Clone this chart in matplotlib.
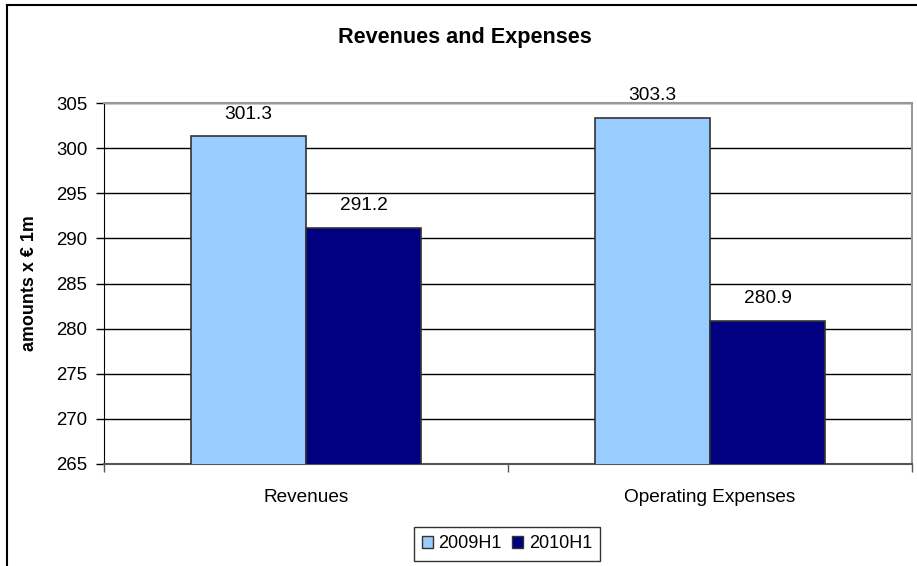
import matplotlib.pyplot as plt
import numpy as np
from matplotlib.lines import Line2D
from matplotlib.patches import Patch

plt.rcParams['font.family'] = ['Liberation Sans', 'DejaVu Sans']

categories = ['Revenues', 'Operating Expenses']
series_names = ['2009H1', '2010H1']
values_2009 = [301.3, 303.3]
values_2010 = [291.2, 280.9]
colors = ['#99CCFF', '#000080']

W, H = 917, 566
fig = plt.figure(figsize=(W / 100, H / 100), dpi=100)

# plot area in pixel coords
left, right, top, bottom = 104, 912, 103, 464
ax = fig.add_axes([left / W, 1 - bottom / H, (right - left) / W, (bottom - top) / H])

x = np.arange(len(categories))
width = 1 / 1.75 / 2  # excel gap width 75%
b1 = ax.bar(x - width / 2, values_2009, width, color=colors[0], edgecolor='#333333', linewidth=1.2, zorder=3)
b2 = ax.bar(x + width / 2, values_2010, width, color=colors[1], edgecolor='#333333', linewidth=1.2, zorder=3)

for bars, vals in ((b1, values_2009), (b2, values_2010)):
    for r, v in zip(bars, vals):
        ax.annotate(f'{v:.1f}', (r.get_x() + r.get_width() / 2, v), xytext=(0, 10),
                    textcoords='offset points', ha='center', va='bottom', fontsize=13.8)

ax.set_xlim(-0.5, 1.5)
ax.set_ylim(265, 305)
ax.set_yticks(np.arange(265, 306, 5))
ax.yaxis.grid(True, color='black', linewidth=1, zorder=0)
ax.set_axisbelow(True)
ax.tick_params(axis='y', direction='out', length=6, width=1, labelsize=13.4, pad=6, colors='black')
ax.set_xticks(x)
ax.set_xticklabels(categories, fontsize=13.7)
ax.tick_params(axis='x', length=0, pad=18)
ax.set_xticks([-0.5, 0.5, 1.5], minor=True)
ax.tick_params(axis='x', which='minor', direction='out', length=6, width=1, color='#555555')

ax.spines['left'].set_color('black')
ax.spines['bottom'].set_color('#555555')
ax.spines['bottom'].set_linewidth(1.5)
for s in ('top', 'right'):
    ax.spines[s].set_color('#999999')
    ax.spines[s].set_linewidth(1.5)

ax.set_ylabel('amounts x € 1m', fontsize=12.9, fontweight='bold')
ax.yaxis.set_label_coords((38 - left) / (right - left), 0.5)

fig.text(465 / W, 1 - 37 / H, 'Revenues and Expenses', ha='center', va='center',
         fontsize=15.6, fontweight='bold')

handles = [Patch(facecolor=c, edgecolor='#333333', linewidth=1) for c in colors]
leg = fig.legend(handles, series_names, loc='center', bbox_to_anchor=(507 / W, 1 - 544 / H),
                 ncol=2, fontsize=13, frameon=True, fancybox=False, handlelength=0.6,
                 handleheight=0.6, handletextpad=0.3, columnspacing=0.6, borderpad=0.45)
leg.get_frame().set_edgecolor('black')
leg.get_frame().set_linewidth(1)

# chart area border (clipped on right and bottom)
fig.add_artist(Line2D([7 / W, 7 / W], [1 - 5 / H, 0], color='black', linewidth=1.5))
fig.add_artist(Line2D([7 / W, 1], [1 - 5 / H, 1 - 5 / H], color='black', linewidth=1.5))

fig.savefig('out.png', dpi=100)
